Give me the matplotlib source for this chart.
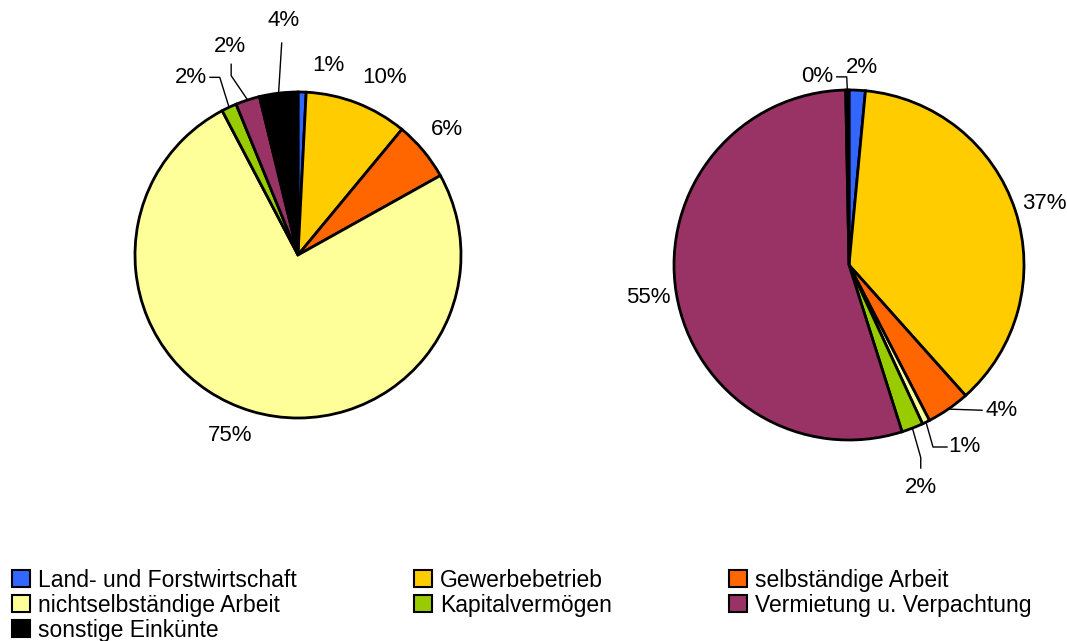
import matplotlib.pyplot as plt
import numpy as np
from matplotlib.patches import Patch

categories = ["Land- und Forstwirtschaft", "Gewerbebetrieb", "selbständige Arbeit",
              "nichtselbständige Arbeit", "Kapitalvermögen", "Vermietung u. Verpachtung",
              "sonstige Einkünte"]
colors = ["#3366FF", "#FFCC00", "#FF6600", "#FFFF99", "#99CC00", "#993366", "#000000"]

left_values = [0.8, 10.2, 5.9, 75.4, 1.5, 2.4, 3.8]
right_values = [1.5, 36.9, 4.0, 0.7, 2.0, 54.6, 0.3]

# label placement (radius units): index -> (leader points, text position, ha)
left_labels = {
    0: ([], (0.184, 1.160), "center"),
    1: ([], (0.534, 1.086), "center"),
    2: ([], (0.914, 0.767), "center"),
    3: ([], (-0.417, -1.110), "center"),
    4: ([(-0.48, 1.09), (-0.54, 1.09)], (-0.56, 1.09), "right"),
    5: ([(-0.41, 1.10), (-0.41, 1.17)], (-0.42, 1.28), "center"),
    6: ([(-0.10, 1.30)], (-0.09, 1.44), "center"),
}
right_labels = {
    0: ([], (0.074, 1.126), "center"),
    1: ([], (1.114, 0.349), "center"),
    2: ([(0.76, -0.83)], (0.78, -0.83), "left"),
    3: ([(0.48, -1.04), (0.56, -1.04)], (0.57, -1.04), "left"),
    4: ([(0.41, -1.10), (0.41, -1.16)], (0.41, -1.27), "center"),
    5: ([], (-1.149, -0.183), "center"),
    6: ([(-0.013, 1.075), (-0.07, 1.075)], (-0.09, 1.075), "right"),
}

W, H = 1067, 641
plt.rcParams['font.family'] = ['Liberation Sans', 'DejaVu Sans']
fig = plt.figure(figsize=(W / 100, H / 100), dpi=100)


def draw_pie(cx, cy, r, values, labels):
    span = 1.6
    size = 2 * r * span
    ax = fig.add_axes([(cx - size / 2) / W, (H - cy - size / 2) / H, size / W, size / H])
    wedges, _ = ax.pie(values, colors=colors, startangle=90, counterclock=False,
                       wedgeprops=dict(edgecolor="black", linewidth=2))
    ax.set_xlim(-span, span)
    ax.set_ylim(-span, span)
    ax.set_aspect("equal")
    ax.axis("off")
    for i, w in enumerate(wedges):
        lab = "%.0f%%" % values[i]
        ang = np.deg2rad((w.theta1 + w.theta2) / 2)
        pts, tpos, ha = labels[i]
        if pts:
            xs = [np.cos(ang)] + [p[0] for p in pts]
            ys = [np.sin(ang)] + [p[1] for p in pts]
            ax.plot(xs, ys, color="black", lw=1)
        ax.text(tpos[0], tpos[1], lab, ha=ha, va="center", fontsize=16)
    return ax


draw_pie(298, 255, 163, left_values, left_labels)
draw_pie(849, 265, 175, right_values, right_labels)

order = [0, 3, 6, 1, 4, 2, 5]
handles = [Patch(facecolor=colors[i], edgecolor="black", linewidth=1.5) for i in order]
names = [categories[i] for i in order]
fig.legend(handles, names, ncol=3, loc="upper left", bbox_to_anchor=(0.0115, 0.113),
           frameon=False, prop=dict(size=16.5),
           handlelength=0.79, handleheight=0.8, handletextpad=0.35, columnspacing=5.1,
           labelspacing=0.09, borderpad=0, borderaxespad=0)

fig.savefig("out.png", dpi=100)
